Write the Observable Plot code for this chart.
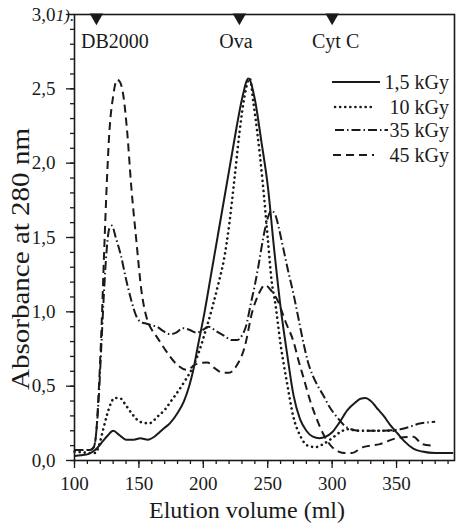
<!DOCTYPE html>
<html>
<head>
<meta charset="utf-8">
<script src="https://cdn.jsdelivr.net/npm/d3@7"></script>
<script src="https://cdn.jsdelivr.net/npm/@observablehq/plot@0.6"></script>
<style>
  html, body { margin: 0; padding: 0; background: #fff; }
  #chart { width: 457px; height: 525px; }
  svg { display: block; }
</style>
</head>
<body>
<div id="chart"></div>
<script>
// ---- Data ----
const seriesNames = ["1,5 kGy", "10 kGy", "35 kGy", "45 kGy"];

const vol15 = [100,105,111,116,122,126,130,135,140,146,151,157,162,166,170,174,180,185,189,192,196,201,206,211,218,222,226,230,235,240,245,250,255,260,265,270,275,280,285,290,295,300,306,312,318,322,326,330,336,340,345,351,356,363,370,380,394];
const abs15 = [0.03,0.035,0.045,0.07,0.13,0.17,0.2,0.17,0.14,0.14,0.15,0.14,0.16,0.19,0.22,0.25,0.32,0.4,0.5,0.6,0.78,1.0,1.25,1.5,1.85,2.05,2.25,2.43,2.57,2.43,2.15,1.85,1.42,1.03,0.72,0.44,0.28,0.2,0.16,0.15,0.16,0.19,0.26,0.34,0.39,0.415,0.42,0.4,0.34,0.3,0.24,0.18,0.13,0.08,0.06,0.05,0.05];

const vol10 = [100,106,112,116,119,122,125,128,131,135,140,145,151,158,165,170,175,180,186,192,197,202,207,212,216,220,224,228,232,236,239,242,246,250,253,256,260,265,270,275,281,287,293,300,306,312,320,330,340,350];
const abs10 = [0.06,0.055,0.05,0.05,0.1,0.2,0.3,0.38,0.42,0.42,0.37,0.31,0.26,0.25,0.3,0.34,0.4,0.46,0.54,0.63,0.74,0.88,1.03,1.2,1.35,1.58,1.88,2.2,2.45,2.57,2.4,2.2,1.88,1.5,1.21,1.05,0.78,0.52,0.29,0.17,0.1,0.09,0.11,0.15,0.19,0.21,0.2,0.2,0.2,0.2];

const vol35 = [100,106,112,115,117,119,121,123,125,127,129,132,136,140,144,148,152,156,160,164,169,174,179,184,189,195,200,204,210,216,222,226,230,233,237,240,243,247,250,253,256,259,262,266,270,274,278,281,285,289,293,298,304,312,322,337,353,369,380];
const abs35 = [0.07,0.07,0.07,0.09,0.2,0.45,0.8,1.15,1.42,1.56,1.58,1.5,1.38,1.22,1.08,0.97,0.93,0.92,0.91,0.9,0.87,0.85,0.86,0.89,0.88,0.86,0.88,0.9,0.87,0.84,0.81,0.81,0.84,0.9,1.06,1.18,1.32,1.52,1.63,1.68,1.65,1.55,1.43,1.27,1.12,0.95,0.78,0.67,0.57,0.5,0.44,0.36,0.29,0.22,0.2,0.2,0.21,0.25,0.26];

const vol45 = [100,106,112,115,117,119,121,123,125,127,130,133,135,138,141,144,148,152,156,160,164,170,179,187,195,203,209,215,220,226,232,238,243,248,252,258,264,270,274,278,283,288,293,300,305,310,315,324,337,350,363,370,378];
const abs45 = [0.07,0.07,0.07,0.09,0.2,0.5,0.9,1.4,1.85,2.2,2.45,2.56,2.55,2.45,2.2,1.85,1.48,1.14,0.96,0.88,0.83,0.75,0.65,0.61,0.65,0.66,0.62,0.59,0.59,0.64,0.76,1.0,1.12,1.18,1.15,1.07,0.93,0.8,0.67,0.55,0.4,0.28,0.18,0.09,0.06,0.05,0.05,0.09,0.11,0.15,0.16,0.11,0.1];

const markerNames = ["DB2000", "Ova", "Cyt C"];
const markerVols = [117, 228, 300];

const xMajorTicks = [100, 150, 200, 250, 300, 350];
const yMajorTicks = [0, 0.5, 1.0, 1.5, 2.0, 2.5, 3.0];

// ---- Styles ----
const ink = "#1a1a1a";
const dashes = [null, "0.1,5", "9,3,1.5,3", "8,5"];
const caps = ["butt", "round", "butt", "butt"];
const widths = [2, 2.6, 2, 2];

const table = [];
[[vol15, abs15], [vol10, abs10], [vol35, abs35], [vol45, abs45]].forEach(([v, a], i) => {
  v.forEach((x, j) => table.push({series: seriesNames[i], vol: x, abs: a[j]}));
});

const xMinor = d3.range(100, 391, 10);
const yMinor = d3.range(0, 30.01, 1).map(d => d / 10);
const fmt = d => d.toFixed(1).replace(".", ",");

const serif = "'Liberation Serif', 'Times New Roman', serif";

const lineMarks = seriesNames.map((s, i) => Plot.line(table.filter(d => d.series === s), {
  x: "vol", y: "abs", curve: "monotone-x",
  stroke: ink, strokeWidth: widths[i],
  strokeDasharray: dashes[i], strokeLinecap: caps[i]
}));

const chart = Plot.plot({
  width: 457, height: 525,
  marginLeft: 74, marginRight: 3, marginTop: 14, marginBottom: 65,
  style: {fontFamily: serif, background: "#fff", color: ink},
  x: {domain: [100, 395], label: null},
  y: {domain: [0, 3], label: null},
  marks: [
    Plot.axisX(xMinor, {tickSize: 4, text: null, stroke: ink, strokeWidth: 1.3, label: null}),
    Plot.axisX(xMajorTicks, {tickSize: 8, tickPadding: 8, fontSize: 19, tickFormat: d => String(d), stroke: ink, strokeWidth: 1.3, fill: ink, label: null}),
    Plot.axisY(yMinor, {tickSize: 4, text: null, stroke: ink, strokeWidth: 1.3, label: null}),
    Plot.axisY(yMajorTicks, {tickSize: 8, tickPadding: 11, fontSize: 19, tickFormat: fmt, stroke: ink, strokeWidth: 1.3, fill: ink, label: null}),
    Plot.frame({stroke: ink, strokeWidth: 1.6}),
    ...lineMarks,
    Plot.dot(markerVols, {x: d => d, y: 3, symbol: "triangle", r: 5, rotate: 180, fill: ink, stroke: "none", dy: 3})
  ]
});

document.getElementById("chart").appendChild(chart);

// ---- Annotations, labels and legend ----
const svg = d3.select(chart);
const xs = chart.scale("x"), ys = chart.scale("y");
const labelDx = [19, -3, 4];
svg.append("g").selectAll("text").data(markerNames).join("text")
  .attr("x", (d, i) => xs.apply(markerVols[i]) + labelDx[i])
  .attr("y", ys.apply(3) + 34)
  .attr("text-anchor", "middle")
  .attr("font-size", 20).attr("font-family", serif).attr("fill", ink)
  .text(d => d);

svg.append("text")
  .attr("x", 65).attr("y", 21)
  .attr("font-size", 17).attr("font-style", "italic").attr("font-family", serif).attr("fill", ink)
  .text("1).");

svg.append("text")
  .attr("x", 247).attr("y", 518)
  .attr("text-anchor", "middle")
  .attr("font-size", 24).attr("font-family", serif).attr("fill", ink)
  .text("Elution volume (ml)");

svg.append("text")
  .attr("transform", "translate(29,259) rotate(-90)")
  .attr("text-anchor", "middle")
  .attr("font-size", 26).attr("font-family", serif).attr("fill", ink)
  .attr("textLength", 262).attr("lengthAdjust", "spacingAndGlyphs")
  .text("Absorbance at 280 nm");

const legY = [82, 107, 130, 155];
const legX0 = [332, 335, 335, 333];
const legX1 = [380, 372, 388, 374];
const leg = svg.append("g");
seriesNames.forEach((s, i) => {
  leg.append("line")
    .attr("x1", legX0[i]).attr("x2", legX1[i])
    .attr("y1", legY[i]).attr("y2", legY[i])
    .attr("stroke", ink).attr("stroke-width", widths[i])
    .attr("stroke-dasharray", dashes[i]).attr("stroke-linecap", caps[i]);
  leg.append("text")
    .attr("x", 449).attr("y", legY[i]).attr("dy", "0.35em")
    .attr("text-anchor", "end")
    .attr("font-size", 20).attr("font-family", serif).attr("fill", ink)
    .text(s);
});
</script>
</body>
</html>
